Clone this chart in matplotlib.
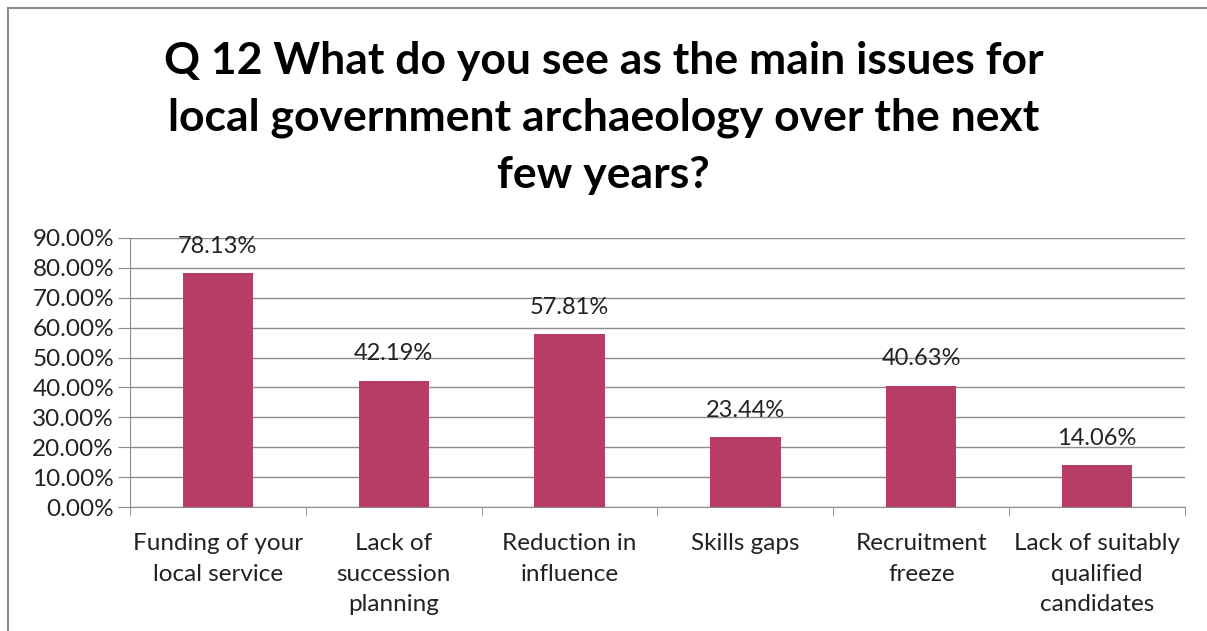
import matplotlib.pyplot as plt
from matplotlib.lines import Line2D
from matplotlib.ticker import FuncFormatter

categories = ["Funding of your\nlocal service", "Lack of\nsuccession\nplanning",
              "Reduction in\ninfluence", "Skills gaps", "Recruitment\nfreeze",
              "Lack of suitably\nqualified\ncandidates"]
values = [78.13, 42.19, 57.81, 23.44, 40.63, 14.06]

plt.rcParams['font.family'] = ['Lato', 'DejaVu Sans']

fig = plt.figure(figsize=(12.07, 6.31), dpi=100)
ax = fig.add_axes([130 / 1207, 1 - 507 / 631, (1185 - 130) / 1207, (507 - 238) / 631])

x = list(range(len(values)))
ax.bar(x, values, width=0.4, color='#B83D66', zorder=3)
for xi, v in zip(x, values):
    ax.text(xi, v + 5.5, f"{v:.2f}%", ha='center', va='bottom', fontsize=17, color='#222222')

ax.set_ylim(0, 90)
ax.set_xlim(-0.5, len(values) - 0.5)
ax.set_yticks(range(0, 91, 10))
ax.yaxis.set_major_formatter(FuncFormatter(lambda v, p: f"{v:.2f}%"))
ax.yaxis.grid(True, color='#8c8c8c', linewidth=1, zorder=0)
ax.set_xticks(x)
ax.set_xticklabels(categories, fontsize=17.5, linespacing=1.55, color='#222222')
ax.set_xticks([i - 0.5 for i in range(len(values) + 1)], minor=True)
ax.tick_params(axis='x', which='major', length=0, pad=19)
ax.tick_params(axis='x', which='minor', length=6.5, color='#8c8c8c')
ax.tick_params(axis='y', length=8.5, color='#8c8c8c', labelsize=17.5, labelcolor='#222222', pad=3)
for s in ['top', 'right']:
    ax.spines[s].set_visible(False)
ax.spines['left'].set_color('#8c8c8c')
ax.spines['bottom'].set_color('#8c8c8c')

fig.text(0.5, 1 - 118 / 631, "Q 12 What do you see as the main issues for\n"
         "local government archaeology over the next\nfew years?",
         ha='center', va='center', fontsize=32, fontweight='bold', linespacing=1.5)

# chart frame
fig.add_artist(Line2D([8 / 1207, 8 / 1207], [0, 1 - 8 / 631], color='#8c8c8c', lw=1.5))
fig.add_artist(Line2D([8 / 1207, 1], [1 - 8 / 631, 1 - 8 / 631], color='#8c8c8c', lw=1.5))

fig.savefig('out.png', dpi=100, facecolor='white')
